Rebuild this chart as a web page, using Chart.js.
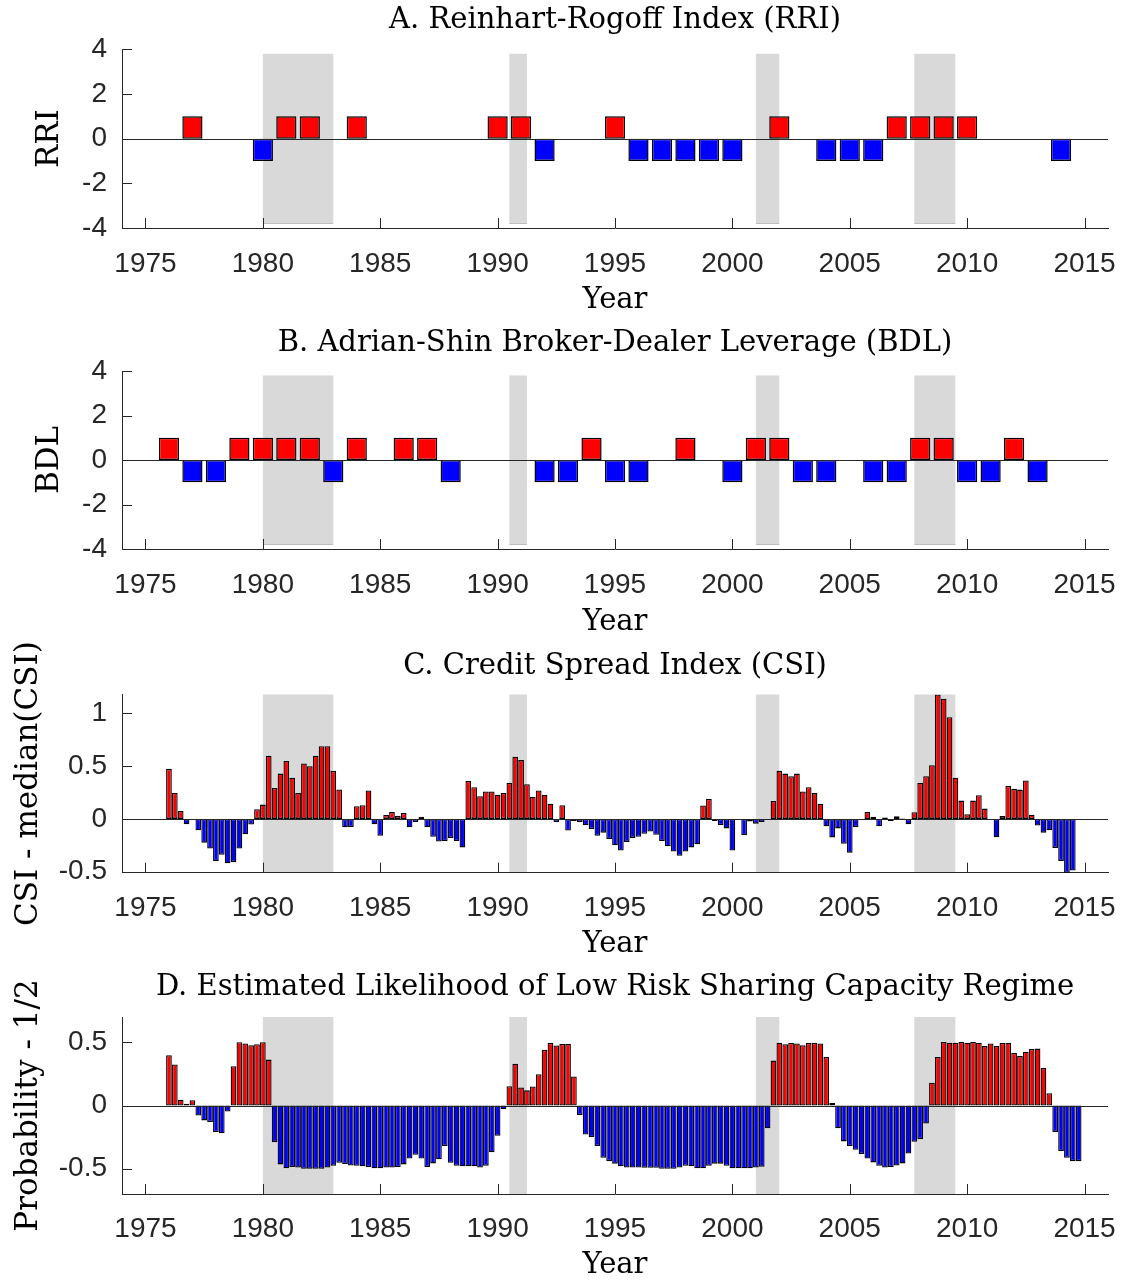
<!DOCTYPE html>
<html>
<head>
<meta charset="utf-8">
<script src="https://cdn.jsdelivr.net/npm/chart.js@4.4.1/dist/chart.umd.min.js"></script>
<style>
  html, body { margin: 0; padding: 0; background: #ffffff; }
  body { position: relative; width: 1123px; height: 1283px; overflow: hidden; }
  canvas { position: absolute; left: 0; }
</style>
</head>
<body>
<canvas id="panelA"></canvas>
<canvas id="panelB"></canvas>
<canvas id="panelC"></canvas>
<canvas id="panelD"></canvas>
<script>
// ---- Recession periods (shaded) ----
const recessionStart = [1980, 1990.5, 2001, 2007.75];
const recessionEnd   = [1983, 1991.25, 2002, 2009.5];

// ---- A. Reinhart-Rogoff Index, annual indicator ----
const rriYears  = [1977, 1980, 1981, 1982, 1984, 1990, 1991, 1992, 1995, 1996, 1997, 1998,
                   1999, 2000, 2002, 2004, 2005, 2006, 2007, 2008, 2009, 2010, 2014];
const rriValues = [1, -1, 1, 1, 1, 1, 1, -1, 1, -1, -1, -1,
                   -1, -1, 1, -1, -1, -1, 1, 1, 1, 1, -1];

// ---- B. Adrian-Shin broker-dealer leverage, annual indicator ----
const bdlYears  = [1976, 1977, 1978, 1979, 1980, 1981, 1982, 1983, 1984, 1986, 1987, 1988,
                   1992, 1993, 1994, 1995, 1996, 1998, 2000, 2001, 2002, 2003, 2004, 2006,
                   2007, 2008, 2009, 2010, 2011, 2012, 2013];
const bdlValues = [1, -1, -1, 1, 1, 1, 1, -1, 1, 1, 1, -1,
                   -1, -1, 1, -1, -1, 1, -1, 1, 1, -1, -1, -1,
                   -1, 1, 1, -1, -1, 1, -1];

// ---- C. Credit spread index minus its median, quarterly from 1976Q1 ----
const csiValues = [
  0.475, 0.247, 0.076, -0.05, -0.01, -0.108, -0.225, -0.28, -0.40, -0.34,
  -0.42, -0.41, -0.28, -0.145, -0.054, 0.092, 0.136, 0.60, 0.294, 0.43,
  0.55, 0.39, 0.247, 0.525, 0.50, 0.60, 0.69, 0.69, 0.456, 0.28,
  -0.08, -0.076, 0.12, 0.13, 0.27, -0.05, -0.16, 0.038, 0.066, 0.03,
  0.057, -0.08, -0.03, 0.02, -0.08, -0.17, -0.215, -0.21, -0.18, -0.21,
  -0.27, 0.36, 0.30, 0.215, 0.26, 0.26, 0.23, 0.245, 0.34, 0.59,
  0.56, 0.33, 0.21, 0.27, 0.23, 0.145, -0.03, 0.13, -0.11, -0.02,
  -0.03, -0.06, -0.095, -0.16, -0.13, -0.19, -0.25, -0.30, -0.22, -0.18,
  -0.17, -0.14, -0.12, -0.15, -0.21, -0.26, -0.31, -0.35, -0.31, -0.27,
  -0.24, 0.127, 0.19, -0.02, -0.057, -0.09, -0.30, 0.0, -0.155, -0.025,
  -0.045, -0.03, -0.005, 0.17, 0.456, 0.43, 0.405, 0.43, 0.26, 0.30,
  0.245, 0.145, -0.07, -0.175, -0.09, -0.235, -0.32, -0.076, 0.0, 0.066,
  0.02, -0.07, 0.013, -0.02, 0.025, 0.005, -0.05, 0.063, 0.34, 0.405,
  0.51, 1.18, 1.14, 0.965, 0.39, 0.174, 0.044, 0.174, 0.225, 0.098,
  0.0, -0.174, 0.028, 0.313, 0.285, 0.278, 0.364, 0.04, -0.063, -0.13,
  -0.108, -0.275, -0.40, -0.51, -0.49
];

// ---- D. Probability of the low risk-sharing regime minus 1/2, quarterly from 1976Q1 ----
const probValues = [
  0.397, 0.324, 0.045, 0.013, 0.042, -0.08, -0.118, -0.13, -0.21, -0.22,
  -0.047, 0.31, 0.50, 0.49, 0.476, 0.484, 0.50, 0.363, -0.29, -0.466,
  -0.497, -0.487, -0.49, -0.50, -0.50, -0.50, -0.50, -0.49, -0.476, -0.453,
  -0.463, -0.474, -0.476, -0.48, -0.487, -0.497, -0.497, -0.49, -0.49, -0.487,
  -0.466, -0.42, -0.39, -0.42, -0.487, -0.458, -0.426, -0.32, -0.453, -0.476,
  -0.48, -0.48, -0.48, -0.49, -0.476, -0.37, -0.24, -0.03, 0.153, 0.33,
  0.142, 0.12, 0.15, 0.247, 0.44, 0.495, 0.474, 0.487, 0.487, 0.23,
  -0.076, -0.23, -0.25, -0.32, -0.413, -0.44, -0.46, -0.48, -0.49, -0.49,
  -0.49, -0.492, -0.492, -0.492, -0.50, -0.50, -0.50, -0.49, -0.476, -0.48,
  -0.497, -0.497, -0.476, -0.46, -0.46, -0.476, -0.497, -0.497, -0.497, -0.497,
  -0.49, -0.484, -0.18, 0.355, 0.497, 0.484, 0.495, 0.49, 0.476, 0.495,
  0.495, 0.49, 0.384, 0.02, -0.18, -0.284, -0.32, -0.35, -0.384, -0.42,
  -0.45, -0.476, -0.49, -0.487, -0.474, -0.458, -0.38, -0.287, -0.266, -0.142,
  0.18, 0.384, 0.503, 0.497, 0.497, 0.503, 0.497, 0.503, 0.497, 0.47,
  0.49, 0.47, 0.495, 0.497, 0.416, 0.392, 0.426, 0.447, 0.45, 0.297,
  0.097, -0.21, -0.36, -0.413, -0.44, -0.44
];

// Quarter dates: 1976Q1 plotted at 1976.00, then every quarter year.
const firstQuarter = 1976;
const quarterDates = n => Array.from({ length: n }, (_, i) => firstQuarter + i / 4);

// Axis tick values
const xTickStep = 5;
const xMin = 1974, xMax = 2016;

const RED = '#ff0000', BLUE = '#0000ff', AXIS = '#262626', SHADE = '#d9d9d9';
const SERIF = '"DejaVu Serif", serif';
const SANS = '"Liberation Sans", Arial, sans-serif';
const TITLE_SIZE = 29, LABEL_SIZE = 29, YLABEL_SIZE = 31, TICK_SIZE = 28, TICK_LEN = 10;

// Shade recession periods behind the marks
const recessionShade = {
  id: 'recessionShade',
  beforeDraw(chart, args, opts) {
    const { ctx, chartArea: a, scales: { x, y } } = chart;
    const top = opts.top == null ? a.top : y.getPixelForValue(opts.top);
    const bot = opts.bottom == null ? a.bottom : y.getPixelForValue(opts.bottom);
    ctx.save();
    recessionStart.forEach((s, i) => {
      const x0 = x.getPixelForValue(s), x1 = x.getPixelForValue(recessionEnd[i]);
      ctx.fillStyle = SHADE;
      ctx.fillRect(x0, top, x1 - x0, bot - top);
      if (opts.bottom != null) {
        ctx.strokeStyle = '#bdbdbd';
        ctx.lineWidth = 1;
        ctx.beginPath();
        ctx.moveTo(x0, Math.round(bot) + 0.5);
        ctx.lineTo(x1, Math.round(bot) + 0.5);
        ctx.stroke();
      }
    });
    ctx.restore();
  }
};

// Zero baseline across the plot, plus inward-pointing tick marks
const axisDetails = {
  id: 'axisDetails',
  afterDatasetsDraw(chart) {
    const { ctx, chartArea: a, scales: { x, y } } = chart;
    ctx.save();
    ctx.strokeStyle = AXIS;
    ctx.lineWidth = 1;
    ctx.beginPath();
    const y0 = Math.round(y.getPixelForValue(0)) + 0.5;
    ctx.moveTo(a.left, y0);
    ctx.lineTo(a.right, y0);
    x.ticks.forEach(t => {
      const px = Math.round(x.getPixelForValue(t.value)) + 0.5;
      ctx.moveTo(px, a.bottom);
      ctx.lineTo(px, a.bottom - TICK_LEN);
    });
    y.ticks.forEach(t => {
      const py = Math.round(y.getPixelForValue(t.value)) + 0.5;
      ctx.moveTo(a.left, py);
      ctx.lineTo(a.left + TICK_LEN, py);
    });
    ctx.stroke();
    ctx.restore();
  }
};

function makePanel(p) {
  const canvas = document.getElementById(p.id);
  canvas.width = 1123;
  canvas.height = p.height;
  canvas.style.top = p.top + 'px';
  canvas.style.width = '1123px';
  canvas.style.height = p.height + 'px';

  const titleLH = TITLE_SIZE * 1.2, labelLH = LABEL_SIZE * 1.2, ylabLH = YLABEL_SIZE * 1.2;
  const titleTop = p.titleY - titleLH / 2;
  const titleBottom = p.plotTop - titleTop - titleLH;
  const xAxisHeight = p.height - p.plotBottom;

  new Chart(canvas, {
    type: 'bar',
    data: {
      datasets: [{
        data: p.xs.map((x, i) => ({ x, y: p.ys[i] })),
        backgroundColor: c => (c.raw && c.raw.y < 0 ? BLUE : RED),
        borderColor: '#000000',
        borderWidth: p.edge,
        borderSkipped: false,
        barPercentage: p.barPct,
        categoryPercentage: 1
      }]
    },
    options: {
      responsive: false,
      animation: false,
      devicePixelRatio: 1,
      layout: { padding: { left: 0, right: 15, top: 0, bottom: 0 } },
      plugins: {
        legend: { display: false },
        tooltip: { enabled: false },
        title: {
          display: true,
          text: p.title,
          fullSize: false,
          color: '#000000',
          font: { family: SERIF, size: TITLE_SIZE, weight: 'normal', lineHeight: 1.2 },
          padding: { top: titleTop, bottom: titleBottom }
        },
        recessionShade: { top: p.shadeTop, bottom: p.shadeBottom }
      },
      scales: {
        x: {
          type: 'linear',
          min: xMin, max: xMax,
          offset: false,
          grid: { display: false, drawTicks: false, offset: false },
          border: { display: true, color: AXIS, width: 1 },
          ticks: {
            stepSize: xTickStep,
            includeBounds: false,
            autoSkip: false,
            maxRotation: 0,
            padding: p.xTickPad,
            color: AXIS,
            font: { family: SANS, size: TICK_SIZE },
            callback: v => String(v)
          },
          title: {
            display: true,
            text: 'Year',
            color: '#000000',
            font: { family: SERIF, size: LABEL_SIZE, lineHeight: 1.2 },
            padding: { top: 0, bottom: p.height - p.yearY - labelLH / 2 }
          },
          afterFit: s => { s.height = xAxisHeight; s.paddingLeft = 0; s.paddingRight = 0; }
        },
        y: {
          type: 'linear',
          min: p.yMin, max: p.yMax,
          grid: { display: false, drawTicks: false },
          border: { display: true, color: AXIS, width: 1 },
          ticks: {
            stepSize: p.yStep,
            includeBounds: false,
            autoSkip: false,
            padding: 15,
            color: AXIS,
            font: { family: SANS, size: TICK_SIZE },
            callback: v => String(Math.round(v * 100) / 100)
          },
          title: {
            display: true,
            text: p.yLabel,
            color: '#000000',
            font: { family: SERIF, size: YLABEL_SIZE, lineHeight: 1.2 },
            padding: { top: p.yLabelX - ylabLH / 2, bottom: 0 }
          },
          afterFit: s => { s.width = 122; s.paddingTop = 0; s.paddingBottom = 0; }
        }
      }
    },
    plugins: [recessionShade, axisDetails]
  });
}

makePanel({
  id: 'panelA', top: 0, height: 320, plotTop: 49.3, plotBottom: 228,
  titleY: 20, yearY: 300, yLabelX: 50, xTickPad: 19,
  title: 'A. Reinhart-Rogoff Index (RRI)', yLabel: 'RRI',
  xs: rriYears, ys: rriValues, barPct: 0.86, edge: 1.5,
  yMin: -4, yMax: 4, yStep: 2, shadeTop: 3.8, shadeBottom: -3.78
});
makePanel({
  id: 'panelB', top: 320, height: 322, plotTop: 51, plotBottom: 229,
  titleY: 23, yearY: 302, yLabelX: 50, xTickPad: 19,
  title: 'B. Adrian-Shin Broker-Dealer Leverage (BDL)', yLabel: 'BDL',
  xs: bdlYears, ys: bdlValues, barPct: 0.86, edge: 1.5,
  yMin: -4, yMax: 4, yStep: 2, shadeTop: 3.8, shadeBottom: -3.78
});
makePanel({
  id: 'panelC', top: 642, height: 323, plotTop: 52.5, plotBottom: 230.7,
  titleY: 24, yearY: 302, yLabelX: 29, xTickPad: 19,
  title: 'C. Credit Spread Index (CSI)', yLabel: 'CSI - median(CSI)',
  xs: quarterDates(csiValues.length), ys: csiValues, barPct: 0.97, edge: 1.3,
  yMin: -0.51, yMax: 1.18, yStep: 0.5, shadeTop: null, shadeBottom: null
});
makePanel({
  id: 'panelD', top: 965, height: 318, plotTop: 52, plotBottom: 229,
  titleY: 22, yearY: 300, yLabelX: 29, xTickPad: 18,
  title: 'D. Estimated Likelihood of Low Risk Sharing Capacity Regime', yLabel: 'Probability - 1/2',
  xs: quarterDates(probValues.length), ys: probValues, barPct: 0.97, edge: 1.3,
  yMin: -0.7, yMax: 0.7, yStep: 0.5, shadeTop: null, shadeBottom: null
});
</script>
</body>
</html>
